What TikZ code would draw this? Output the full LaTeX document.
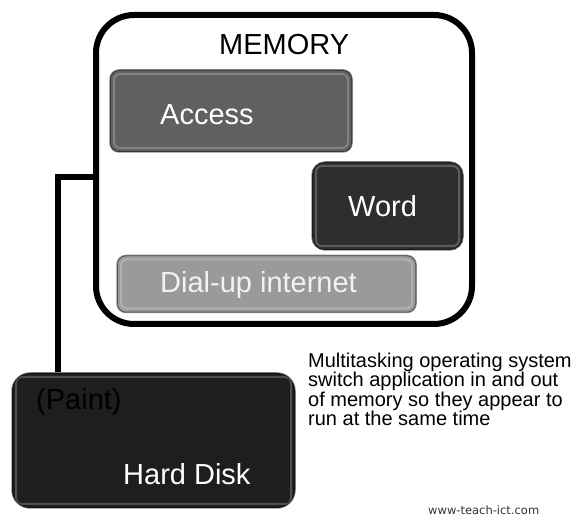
\documentclass[tikz,border=0pt]{standalone}
\usepackage{fontspec}
\setmainfont{Liberation Sans}
\newfontfamily\webfont{DejaVu Sans}
\usetikzlibrary{calc}
\definecolor{accessgray}{HTML}{606060}
\definecolor{wordgray}{HTML}{2E2E2E}
\definecolor{dialgray}{HTML}{9A9A9A}
\definecolor{diskgray}{HTML}{1E1E1E}
\tikzstyle{every path}=[line cap=round,line join=round]
\tikzstyle{memframe}=[draw=black,line width=6pt,rounded corners=38pt,inner sep=0pt]
\tikzstyle{appbox}=[rounded corners=9pt,inner sep=0pt,draw=black,draw opacity=0.45,line width=1.5pt,
  path picture={\draw[white,opacity=0.22,line width=2pt,rounded corners=6pt]
  ([shift={(4pt,-4pt)}]path picture bounding box.north west) rectangle
  ([shift={(-4pt,4pt)}]path picture bounding box.south east);}]
\tikzstyle{big}=[font=\fontsize{29}{32}\selectfont,inner sep=0pt,anchor=base west]
\tikzstyle{link}=[line width=6pt,line cap=butt,line join=miter]

\begin{document}
\begin{tikzpicture}[x=1pt,y=-1pt]
  \useasboundingbox (0,0) rectangle (574,518);
  % memory
  \node[memframe,minimum width=376pt,minimum height=309pt] (mem) at (284,169.5) {};
  \node[big] (memlbl) at (219,55) {MEMORY};
  % applications in memory
  \node[appbox,fill=accessgray,minimum width=242pt,minimum height=82pt] (access) at (231,111) {};
  \node[big,white] (accesslbl) at (160,125) {Access};
  \node[appbox,fill=wordgray,rounded corners=13pt,minimum width=151pt,minimum height=88pt] (word) at (387.5,206) {};
  \node[big,white] (wordlbl) at (348,217) {Word};
  \node[appbox,fill=dialgray,minimum width=299pt,minimum height=57pt] (dial) at (266.5,284) {};
  \node[big,white!95!black] (diallbl) at (160,293) {Dial-up internet};
  % hard disk
  \node[appbox,fill=diskgray,rounded corners=18pt,minimum width=283pt,minimum height=135pt] (disk) at (153.5,440.5) {};
  \node[big,black] (paintlbl) at (36,410) {(Paint)};
  \node[big,white] (disklbl) at (123,485) {Hard Disk};
  % link
  \coordinate (bend) at (58,177);
  \draw[link] (bend -| mem.west) -- (bend) -- (bend |- disk.north);
  % notes
  \node[inner sep=0pt,anchor=base west,align=left,font=\fontsize{20}{18.6}\selectfont] (note) at (308,426)
    {Multitasking operating system\\switch application in and out\\of memory so they appear to\\run at the same time};
  \node[inner sep=0pt,anchor=base west,text=black!80,font=\webfont\fontsize{11.5}{13}\selectfont] (web) at (428,515) {www-teach-ict.com};
\end{tikzpicture}
\end{document}
